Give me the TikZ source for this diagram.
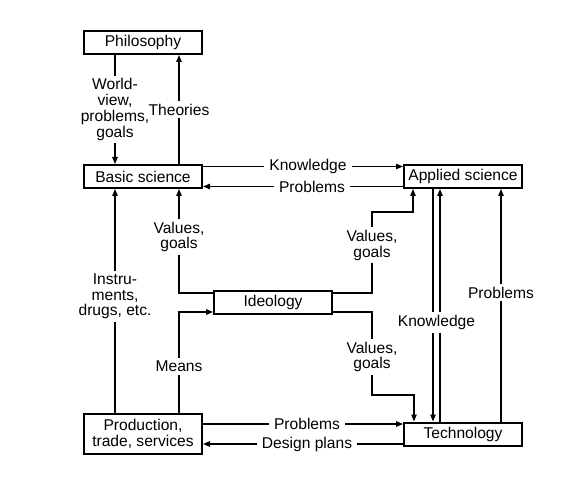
\documentclass[tikz,border=0pt]{standalone}
\usepackage{fontspec}
\setmainfont{Liberation Sans}
\usetikzlibrary{positioning, arrows.meta}

\begin{document}
\begin{tikzpicture}[
    x=1pt, y=1pt,
    every node/.style={align=center, font=\fontsize{15.6}{15.7}\selectfont},
    block/.style={
        rectangle,
        draw,
        line width=2pt,
        minimum width=118pt,
        minimum height=23pt,
        inner sep=2pt
    },
    edge_label/.style={fill=white, inner xsep=5pt, inner ysep=3pt},
    arrow/.style = {draw, -{Triangle[length=7pt,width=5.5pt]}, line width=1.2pt}
]
    \useasboundingbox (0,0) rectangle (588,-494);
    % 方框
    \node [block] (philosophy) at (143,-42.5) {Philosophy};
    \node [block, below=109pt of philosophy] (basic) {Basic science};
    \node [block, right=200pt of basic] (applied) {Applied science};
    \node [block, below=101pt of basic, xshift=130pt] (ideology) {Ideology};
    \node [block, minimum height=40pt, below=224pt of basic] (production) {Production,\\trade, services};
    \node [block, right=200pt of production] (technology) {Technology};
    % 连线
    \draw [arrow] ([xshift=-28pt]philosophy.south) -- ([xshift=-28pt]basic.north)
        node [edge_label, midway] {World-\\view,\\problems,\\goals};
    \draw [arrow] ([xshift=36pt]basic.north) -- ([xshift=36pt]philosophy.south)
        node [edge_label, midway] {Theories};
    \draw [arrow] ([yshift=10pt]basic.east) -- ([yshift=10pt]applied.west)
        node [edge_label, pos=0.525] {Knowledge};
    \draw [arrow] ([yshift=-10pt]applied.west) -- ([yshift=-10pt]basic.east)
        node [edge_label, pos=0.455] {Problems};
    \draw [arrow] ([yshift=-3pt]ideology.north west) -| ([xshift=36pt]basic.south)
        node [edge_label, pos=0.77] {Values,\\goals};
    \draw [arrow] ([xshift=-28pt]production.north) -- ([xshift=-28pt]basic.south)
        node [edge_label, pos=0.52] {Instru-\\ments,\\drugs, etc.};
    \draw [arrow] ([xshift=36pt]production.north) |- ([yshift=3pt]ideology.south west)
        node [edge_label, pos=0.23] {Means};
    \draw [arrow] ([yshift=-3pt]ideology.north east) -- ++(39,0) -- ++(0,81)
        node [edge_label, pos=0.59] {Values,\\goals} -| ([xshift=-50pt]applied.south);
    \draw [arrow] ([yshift=3pt]ideology.south east) -- ++(39,0) -- ++(0,-83)
        node [edge_label, pos=0.54] {Values,\\goals} -| ([xshift=-49pt]technology.north);
    \draw [arrow] ([xshift=-23pt]technology.north) -- ([xshift=-23pt]applied.south);
    \draw [arrow] ([xshift=-30pt]applied.south) -- ([xshift=-30pt]technology.north)
        node [edge_label, pos=0.575, xshift=3.5pt] {Knowledge};
    \draw [arrow] ([xshift=38pt]technology.north) -- ([xshift=38pt]applied.south)
        node [edge_label, pos=0.555] {Problems};
    \draw [arrow] ([yshift=10pt]production.east) -- ([yshift=10pt]technology.west)
        node [edge_label, pos=0.52] {Problems};
    \draw [arrow] ([yshift=-10pt]technology.west) -- ([yshift=-10pt]production.east)
        node [edge_label, pos=0.48] {Design plans};
\end{tikzpicture}
\end{document}
